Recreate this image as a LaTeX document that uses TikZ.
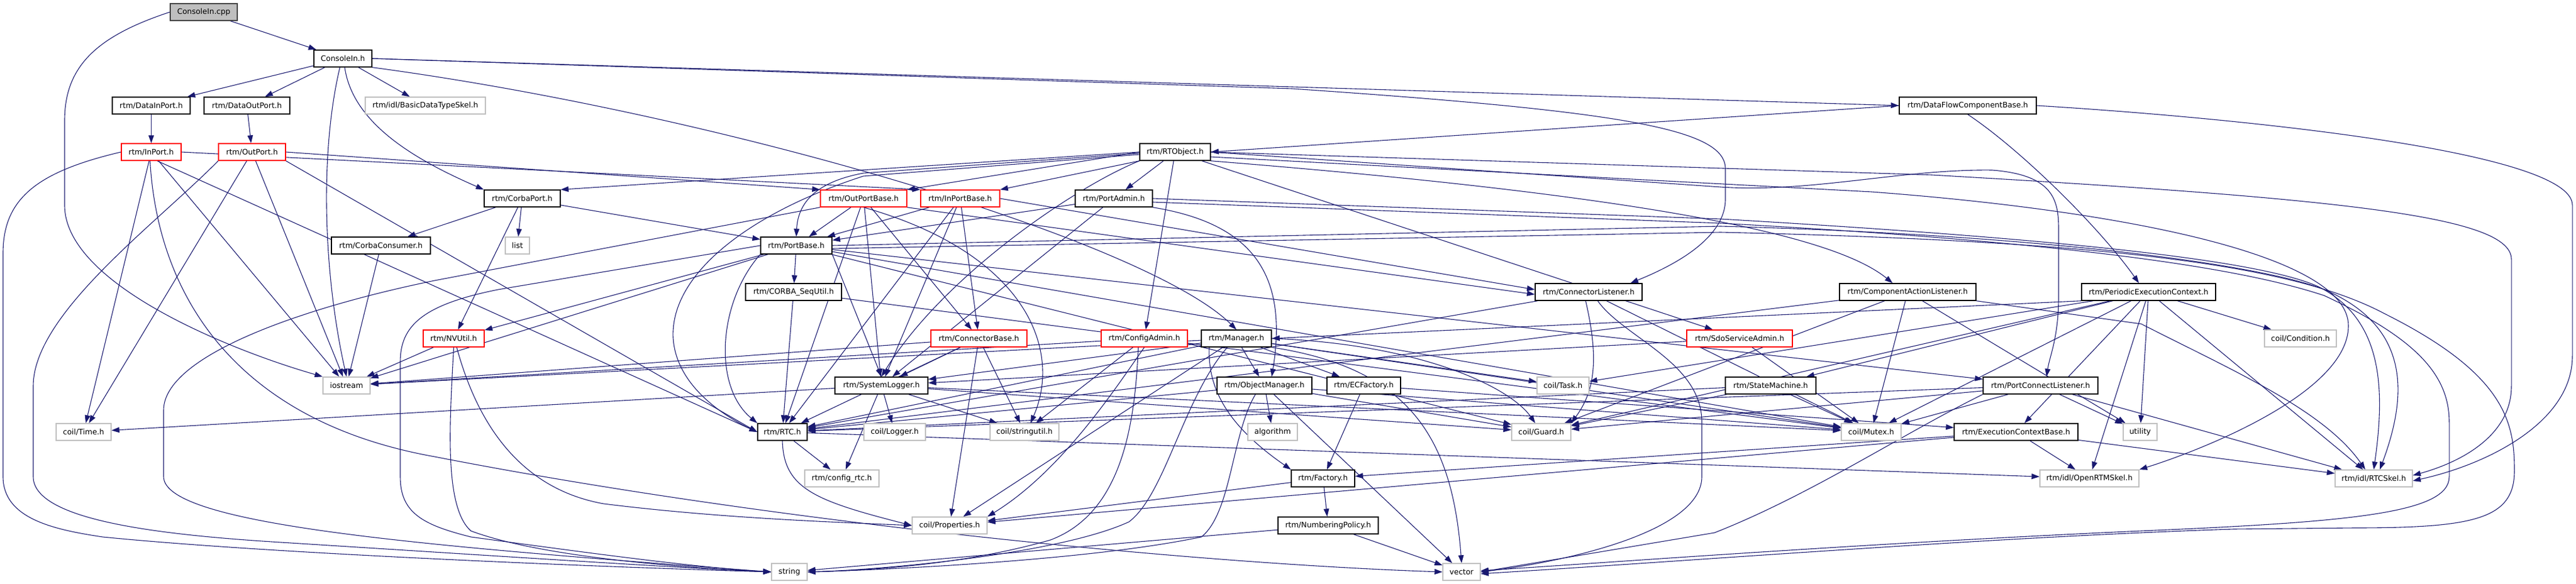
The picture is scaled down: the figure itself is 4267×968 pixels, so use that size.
\documentclass[tikz,border=0pt]{standalone}
\usepackage{fontspec}
\setmainfont{DejaVu Sans}
\usetikzlibrary{arrows.meta}
\definecolor{eblue}{HTML}{191970}
\definecolor{gbord}{HTML}{BFBFBF}
\pgfdeclarelayer{back}
\pgfdeclarelayer{bg}
\pgfsetlayers{back,bg,main}
\begin{document}
\begin{tikzpicture}[x=1pt,y=-1pt,
  nb/.style={draw=black,line width=1.4pt,fill=white,minimum height=28pt,inner sep=0pt,font=\fontsize{12.5}{15}\selectfont},
  ng/.style={nb,draw=gbord},
  nr/.style={nb,draw=red},
  edg/.style={draw=eblue,line width=1.1pt,-{Triangle[length=13pt,width=9pt]}},
]
\useasboundingbox (0,0) rectangle (4267,968);
\begin{pgfonlayer}{back}
\fill[white] (0,0) rectangle (4267,968);
\end{pgfonlayer}

% ---------------- nodes ----------------
\node[nb,minimum width=111pt,fill=gbord,draw=black!75] (cpp) at (337.5,20) {ConsoleIn.cpp};
\node[nb,minimum width=96pt] (cih) at (568,97) {ConsoleIn.h};
\node[nb,minimum width=129pt] (dip) at (250.5,175) {rtm/DataInPort.h};
\node[nb,minimum width=142pt] (dop) at (409,175) {rtm/DataOutPort.h};
\node[ng,minimum width=199pt] (bdts) at (704.5,175) {rtm/idl/BasicDataTypeSkel.h};
\node[nb,minimum width=227pt] (dfcb) at (3259.5,175) {rtm/DataFlowComponentBase.h};
\node[nr,minimum width=99pt] (inp) at (250.5,252) {rtm/InPort.h};
\node[nr,minimum width=111pt] (outp) at (417.5,252) {rtm/OutPort.h};
\node[nb,minimum width=117pt] (rto) at (1946.5,252) {rtm/RTObject.h};
\node[nb,minimum width=126pt] (cport) at (865,329) {rtm/CorbaPort.h};
\node[nr,minimum width=143pt] (opb) at (1430.5,329) {rtm/OutPortBase.h};
\node[nr,minimum width=131pt] (ipb) at (1590.5,329) {rtm/InPortBase.h};
\node[nb,minimum width=128pt] (padm) at (1845,329) {rtm/PortAdmin.h};
\node[nb,minimum width=164pt] (ccons) at (631,407) {rtm/CorbaConsumer.h};
\node[ng,minimum width=40pt] (list) at (857,407) {list};
\node[nb,minimum width=118pt] (pbase) at (1319,407) {rtm/PortBase.h};
\node[nb,minimum width=159pt] (seq) at (1314.5,484) {rtm/CORBA\_SeqUtil.h};
\node[nb,minimum width=177pt] (clis) at (2631.5,484) {rtm/ConnectorListener.h};
\node[nb,minimum width=226pt] (cal) at (3160,484) {rtm/ComponentActionListener.h};
\node[nb,minimum width=222pt] (pec) at (3559,484) {rtm/PeriodicExecutionContext.h};
\node[nr,minimum width=101pt] (nvu) at (751.5,561) {rtm/NVUtil.h};
\node[nr,minimum width=159pt] (cbase) at (1621.5,561) {rtm/ConnectorBase.h};
\node[nr,minimum width=143pt] (cadm) at (1895.5,561) {rtm/ConfigAdmin.h};
\node[nb,minimum width=116pt] (mgr) at (2048,561) {rtm/Manager.h};
\node[nr,minimum width=175pt] (sdo) at (2881.5,561) {rtm/SdoServiceAdmin.h};
\node[ng,minimum width=119pt] (cond) at (3810.5,561) {coil/Condition.h};
\node[ng,minimum width=78pt] (ios) at (574,639) {iostream};
\node[nb,minimum width=154pt] (slog) at (1460,639) {rtm/SystemLogger.h};
\node[nb,minimum width=157pt] (om) at (2094.5,639) {rtm/ObjectManager.h};
\node[nb,minimum width=122pt] (ecf) at (2259,639) {rtm/ECFactory.h};
\node[ng,minimum width=86pt] (task) at (2589,639) {coil/Task.h};
\node[nb,minimum width=150pt] (sm) at (2933,639) {rtm/StateMachine.h};
\node[nb,minimum width=190pt] (pcl) at (3380,639) {rtm/PortConnectListener.h};
\node[ng,minimum width=91pt] (time) at (138.5,716) {coil/Time.h};
\node[nb,minimum width=82pt] (rtc) at (1296,716) {rtm/RTC.h};
\node[ng,minimum width=102pt] (logger) at (1482,716) {coil/Logger.h};
\node[ng,minimum width=114pt] (sutil) at (1697,716) {coil/stringutil.h};
\node[ng,minimum width=82pt] (algo) at (2108,716) {algorithm};
\node[ng,minimum width=98pt] (guard) at (2553,716) {coil/Guard.h};
\node[ng,minimum width=99pt] (mutex) at (3099.5,716) {coil/Mutex.h};
\node[nb,minimum width=205pt] (ecb) at (3339.5,716) {rtm/ExecutionContextBase.h};
\node[ng,minimum width=56pt] (util) at (3545,716) {utility};
\node[ng,minimum width=123pt] (crtc) at (1394.5,793) {rtm/config\_rtc.h};
\node[nb,minimum width=105pt] (fact) at (2191.5,793) {rtm/Factory.h};
\node[ng,minimum width=164pt] (orsk) at (3461,793) {rtm/idl/OpenRTMSkel.h};
\node[ng,minimum width=128pt] (rtcsk) at (3932,793) {rtm/idl/RTCSkel.h};
\node[ng,minimum width=124pt] (prop) at (1573,871) {coil/Properties.h};
\node[nb,minimum width=166pt] (nump) at (2200,871) {rtm/NumberingPolicy.h};
\node[ng,minimum width=59pt] (str) at (1307.5,948) {string};
\node[ng,minimum width=62pt] (vec) at (2421,948) {vector};

% ---------------- edges ----------------
\begin{pgfonlayer}{bg}
% ConsoleIn.cpp / ConsoleIn.h
\draw[edg] (cpp) -- (cih);
\draw[edg] (cpp.west) .. controls (160,60) and (107,110) .. (107,200) -- (107,340) .. controls (107,470) and (380,580) .. (ios.north west);
\draw[edg] (cih) -- (dip);
\draw[edg] (cih) -- (dop);
\draw[edg] (cih) -- (bdts);
\draw[edg] ([xshift=-5pt]cih.south) .. controls (530,250) and (535,450) .. (ios.north);
\draw[edg] ([xshift=3pt]cih.south) .. controls (585,210) and (700,270) .. (cport.north west);
\draw[edg] (cih.south east) .. controls (1200,190) and (1900,400) .. (mgr.north);
\draw[edg] (cih.east) -- (dfcb.west);
\draw[edg] (cih.east) -- (2140,147) .. controls (2700,185) and (2858,215) .. (2858,280) -- (2858,330) .. controls (2858,400) and (2760,445) .. ([xshift=-20pt]clis.north east);
\draw[edg] (dip) -- (inp);
\draw[edg] (dop) -- (outp);
% InPort
\draw[edg] (inp.west) .. controls (60,285) and (5,330) .. (5,420) -- (5,790) .. controls (5,860) and (90,878) .. (170,890) .. controls (450,918) and (1000,940) .. (str.west);
\draw[edg] (inp) -- (time);
\draw[edg] ([xshift=-2pt]inp.south) .. controls (262,500) and (400,700) .. (720,757) .. controls (1300,870) and (2000,935) .. (vec.west);
\draw[edg] (inp) -- (ios);
\draw[edg] ([xshift=10pt]inp.south) -- (rtc.west);
\draw[edg] (inp.east) -- (ipb.north west);
% OutPort
\draw[edg] (outp.east) -- (opb.north west);
\draw[edg] (outp.south west) .. controls (260,370) and (55,520) .. (55,640) -- (55,790) .. controls (55,860) and (250,885) .. (450,898) .. controls (800,920) and (1100,940) .. (str.west);
\draw[edg] (outp) -- (time);
\draw[edg] (outp) -- (ios);
\draw[edg] (outp.south east) -- (rtc.west);
% CorbaPort
\draw[edg] (cport) -- (ccons);
\draw[edg] (cport) -- (list);
\draw[edg] (cport) -- (pbase);
\draw[edg] (cport) -- (nvu);
\draw[edg] (ccons) -- (ios);
% RTObject
\draw[edg] (rto.west) -- (cport.north east);
\draw[edg] (rto.west) -- (opb.north east);
\draw[edg] (rto.south west) -- (ipb.north east);
\draw[edg] (rto) -- (padm);
\draw[edg] (rto) -- (cadm);
\draw[edg] (rto) -- (sdo);
\draw[edg] (rto.south east) .. controls (2800,330) and (3050,400) .. ([xshift=-25pt]cal.north);
\draw[edg] (rto.east) -- (2850,310) .. controls (3000,320) and (3150,280) .. (3300,282) .. controls (3400,290) and (3410,330) .. (3410,380) -- (3410,490) .. controls (3410,560) and (3395,590) .. ([xshift=10pt]pcl.north);
\draw[edg] ([yshift=-4pt]rto.west) -- (1430,292) .. controls (1250,350) and (1110,450) .. (1115,560) .. controls (1120,640) and (1200,690) .. (rtc.west);
\draw[edg] ([yshift=-2pt]rto.west) -- (1430,287) .. controls (1360,300) and (1322,330) .. (pbase.north);
\draw[edg] (rto.south west) .. controls (1780,310) and (1560,460) .. (slog.north);
\draw[edg] (rto.east) -- (3200,290) .. controls (3900,330) and (4160,360) .. (4160,430) -- (4160,640) .. controls (4160,720) and (4080,765) .. ([yshift=5pt]rtcsk.east);
\draw[edg] ([yshift=-8pt]rto.east) -- (3100,318) .. controls (3500,348) and (3890,420) .. (3890,540) .. controls (3890,650) and (3650,745) .. (orsk.north east);
% DataFlowComponentBase
\draw[edg] (dfcb.west) -- (rto.east);
\draw[edg] (dfcb.south) .. controls (3350,250) and (3480,380) .. ([xshift=-16pt]pec.north);
\draw[edg] (dfcb.east) .. controls (3700,195) and (4261,250) .. (4261,340) -- (4261,590) .. controls (4261,700) and (4120,770) .. ([yshift=-4pt]rtcsk.east);
% PortBase
\draw[edg] (pbase) -- (seq);
\draw[edg] (pbase) -- (nvu);
\draw[edg] (pbase) -- (ios);
\draw[edg] (pbase.south west) .. controls (1190,500) and (1180,640) .. (rtc.north west);
\draw[edg] (pbase.south east) -- (slog.north);
\draw[edg] (pbase) -- (guard);
\draw[edg] (pbase) -- (mutex);
\draw[edg] (pbase) -- (pcl);
\draw[edg] (pbase.west) -- (825,480) .. controls (700,505) and (663,540) .. (663,600) -- (663,790) .. controls (663,850) and (700,870) .. (780,890) .. controls (1000,920) and (1150,940) .. (str.west);
\draw[edg] (pbase.east) -- (2850,375) .. controls (3400,390) and (3750,440) .. (3850,480) .. controls (3990,540) and (3990,650) .. ([xshift=10pt]rtcsk.north);
\draw[edg] ([yshift=-5pt]pbase.east) -- (2850,385) .. controls (3500,400) and (3800,440) .. (3950,520) .. controls (4150,620) and (4165,700) .. (4165,780) .. controls (4165,860) and (4100,875) .. (3900,875) -- (3700,877) .. controls (3300,890) and (2800,930) .. ([yshift=-3pt]vec.east);
% OutPortBase
\draw[edg] (opb) -- (pbase);
\draw[edg] (opb) -- (cbase);
\draw[edg] (opb.south east) -- ([yshift=-4pt]clis.west);
\draw[edg] (opb.south west) -- (720,465) .. controls (500,510) and (271,590) .. (271,680) -- (271,790) .. controls (271,870) and (700,905) .. (str.west);
\draw[edg] (opb.south) .. controls (1700,420) and (1760,580) .. ([xshift=10pt]sutil.north);
\draw[edg] (opb) -- (slog);
\draw[edg] (opb) -- (rtc);
% InPortBase
\draw[edg] (ipb) -- (pbase);
\draw[edg] (ipb.east) -- ([yshift=4pt]clis.west);
\draw[edg] (ipb) -- (cbase);
\draw[edg] (ipb) -- (rtc);
\draw[edg] (ipb) -- (slog);
% PortAdmin
\draw[edg] (padm) -- (pbase);
\draw[edg] (padm) -- (slog);
\draw[edg] (padm.south east) .. controls (2070,370) and (2135,450) .. ([xshift=12pt]om.north);
\draw[edg] (padm.east) -- (2850,363) .. controls (3400,395) and (3740,430) .. (3840,475) .. controls (3950,530) and (3950,650) .. (rtcsk.north);
\draw[edg] ([yshift=-6pt]padm.east) -- (2850,370) .. controls (3400,400) and (3700,440) .. (3850,490) .. controls (4000,560) and (4057,620) .. (4057,700) -- (4057,790) .. controls (4057,850) and (3900,865) .. (3547,880) .. controls (3100,900) and (2700,930) .. ([yshift=2pt]vec.east);
% CORBA_SeqUtil, NVUtil
\draw[edg] (seq) -- (rtc);
\draw[edg] (seq) -- (mutex);
\draw[edg] (nvu) -- (ios);
\draw[edg] (nvu.south) .. controls (745,700) and (735,840) .. (780,880) .. controls (900,925) and (1150,942) .. (str.west);
\draw[edg] ([xshift=5pt]nvu.south) .. controls (790,700) and (860,810) .. (1000,835) .. controls (1200,860) and (1400,866) .. (prop.west);
% ConnectorBase
\draw[edg] (cbase) -- (prop);
\draw[edg] (cbase) -- (sutil);
\draw[edg] (cbase) -- (slog);
\draw[edg] (cbase) -- (rtc);
\draw[edg] (cbase) -- (ios);
% ConfigAdmin
\draw[edg] (cadm) -- (sutil);
\draw[edg] (cadm.south) .. controls (1850,640) and (1760,780) .. (prop.north east);
\draw[edg] ([xshift=-10pt]cadm.south) .. controls (1880,700) and (1860,850) .. (1740,895) .. controls (1600,935) and (1450,945) .. (str.east);
\draw[edg] (cadm) -- (ios);
% Manager
\draw[edg] (mgr) -- (om);
\draw[edg] (mgr) -- (ecf);
\draw[edg] (mgr) -- (task);
\draw[edg] (mgr.east) .. controls (2350,570) and (2500,640) .. ([xshift=-10pt]guard.north);
\draw[edg] (mgr) -- (mutex);
\draw[edg] (mgr.south east) .. controls (2330,610) and (2405,720) .. (vec.north);
\draw[edg] ([xshift=-15pt]mgr.south) .. controls (1960,660) and (1930,820) .. (1870,865) .. controls (1750,920) and (1450,945) .. (str.east);
\draw[edg] ([xshift=-45pt]mgr.south) .. controls (2000,650) and (2040,710) .. (fact.north west);
\draw[edg] (mgr) -- (slog);
\draw[edg] (mgr) -- (rtc);
\draw[edg] (mgr) -- (ios);
\draw[edg] (mgr) -- (prop);
% ObjectManager
\draw[edg] (om) -- (algo);
\draw[edg] (om) -- (vec);
\draw[edg] ([xshift=-15pt]om.south) .. controls (2040,720) and (2040,850) .. (1990,890) .. controls (1800,930) and (1450,945) .. (str.east);
\draw[edg] (om) -- (guard);
\draw[edg] (om) -- (mutex);
\draw[edg] (om) -- (rtc);
% ECFactory, Factory, NumberingPolicy
\draw[edg] (ecf) -- (fact);
\draw[edg] (ecf) -- (ecb);
\draw[edg] (fact) -- (nump);
\draw[edg] (fact) -- (prop);
\draw[edg] (nump) -- (vec);
\draw[edg] (nump) -- (str);
% SystemLogger
\draw[edg] (slog) -- (logger);
\draw[edg] (slog) -- (time);
\draw[edg] (slog) -- (sutil);
\draw[edg] (slog) -- (crtc);
\draw[edg] (slog) -- (mutex);
\draw[edg] (slog) -- (guard);
% RTC
\draw[edg] (rtc) -- (crtc);
\draw[edg] (rtc) -- (orsk);
\draw[edg] (rtc.south) .. controls (1298,810) and (1350,830) .. (prop.west);
% SdoServiceAdmin
\draw[edg] (sdo) -- (mutex);
\draw[edg] (sdo) -- (slog);
% ConnectorListener
\draw[edg] ([xshift=-5pt]clis.south) .. controls (2650,600) and (2640,650) .. (guard.north east);
\draw[edg] ([xshift=15pt]clis.south) .. controls (2690,560) and (2819,600) .. (2819,700) -- (2819,790) .. controls (2819,880) and (2600,930) .. (vec.east);
\draw[edg] (clis) -- (mutex);
\draw[edg] (clis) -- (rtc);
% ComponentActionListener
\draw[edg] (cal) -- (mutex);
\draw[edg] (cal) -- (guard);
\draw[edg] (cal) -- (util);
\draw[edg] (cal.south east) -- (3547,537) .. controls (3700,615) and (3850,680) .. ([xshift=-14pt]rtcsk.north);
\draw[edg] (cal) -- (rtc);
% PeriodicExecutionContext
\draw[edg] (pec) -- (cond);
\draw[edg] (pec) -- (rtcsk);
\draw[edg] (pec) -- (orsk);
\draw[edg] (pec.south west) -- (mgr.east);
\draw[edg] (pec) -- (sm);
\draw[edg] (pec) -- (ecb);
\draw[edg] (pec) -- (mutex);
\draw[edg] (pec) -- (guard);
\draw[edg] (pec) -- (task);
\draw[edg] (pec) -- (util);
% StateMachine
\draw[edg] (sm) -- (mutex);
\draw[edg] (sm) -- (guard);
\draw[edg] (sm) -- (rtc);
% PortConnectListener
\draw[edg] (pcl) -- (mutex);
\draw[edg] (pcl.south west) .. controls (3150,720) and (3000,820) .. (2840,883) -- (vec.east);
\draw[edg] (pcl) -- (rtcsk);
\draw[edg] (pcl) -- (util);
\draw[edg] (pcl) -- (guard);
\draw[edg] (pcl) -- (rtc);
% ExecutionContextBase
\draw[edg] (ecb) -- (orsk);
\draw[edg] (ecb) -- (rtcsk);
\draw[edg] (ecb) -- (fact);
\draw[edg] (ecb) -- (prop);
\end{pgfonlayer}
\end{tikzpicture}
\end{document}
